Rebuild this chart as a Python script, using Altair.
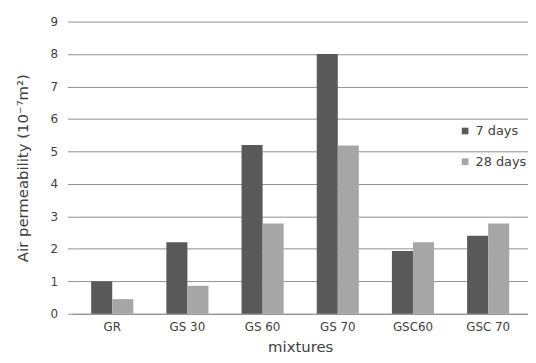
import altair as alt
import pandas as pd

mixtures = ["GR", "GS 30", "GS 60", "GS 70", "GSC60", "GSC 70"]
days7 = [1.0, 2.2, 5.2, 8.0, 1.93, 2.4]
days28 = [0.45, 0.86, 2.78, 5.18, 2.2, 2.78]
series = ["7 days", "28 days"]

rows = []
for m, a, b in zip(mixtures, days7, days28):
    rows.append({"mixture": m, "series": series[0], "value": a})
    rows.append({"mixture": m, "series": series[1], "value": b})
df = pd.DataFrame(rows)

font = "DejaVu Sans"
txt = "#404040"
grid = "#909090"

chart = alt.Chart(df).mark_bar().encode(
    x=alt.X("mixture:N", sort=mixtures,
            scale=alt.Scale(paddingInner=0.44, paddingOuter=0.25),
            axis=alt.Axis(title="mixtures", labelAngle=0, ticks=False,
                          domainColor=grid, labelPadding=8,
                          titlePadding=7)),
    xOffset=alt.XOffset("series:N", sort=series),
    y=alt.Y("value:Q", scale=alt.Scale(domain=[0, 9]),
            axis=alt.Axis(title="Air permeability (10⁻⁷m²)", values=list(range(10)),
                          grid=True, gridColor=grid, domain=False,
                          tickColor=grid, tickSize=5, labelPadding=10,
                          titlePadding=20)),
    color=alt.Color("series:N", sort=series,
                    scale=alt.Scale(domain=series, range=["#595959", "#a6a6a6"]),
                    legend=alt.Legend(title=None, orient="none", legendX=390, legendY=104,
                                      symbolType="square", symbolSize=45,
                                      rowPadding=17, labelFontSize=13,
                                      labelColor=txt, labelFont=font)),
).properties(
    width=460, height=295,
    padding={"left": 65, "top": 12, "right": 0, "bottom": 46},
    autosize=alt.AutoSizeParams(type="none"),
).configure_view(stroke=None).configure_axis(
    labelFont=font, titleFont=font, labelFontSize=12, titleFontSize=15,
    labelColor=txt, titleColor=txt, titleFontWeight="normal",
)

chart.save("out.html", embed_options={"renderer": "svg", "actions": False})
